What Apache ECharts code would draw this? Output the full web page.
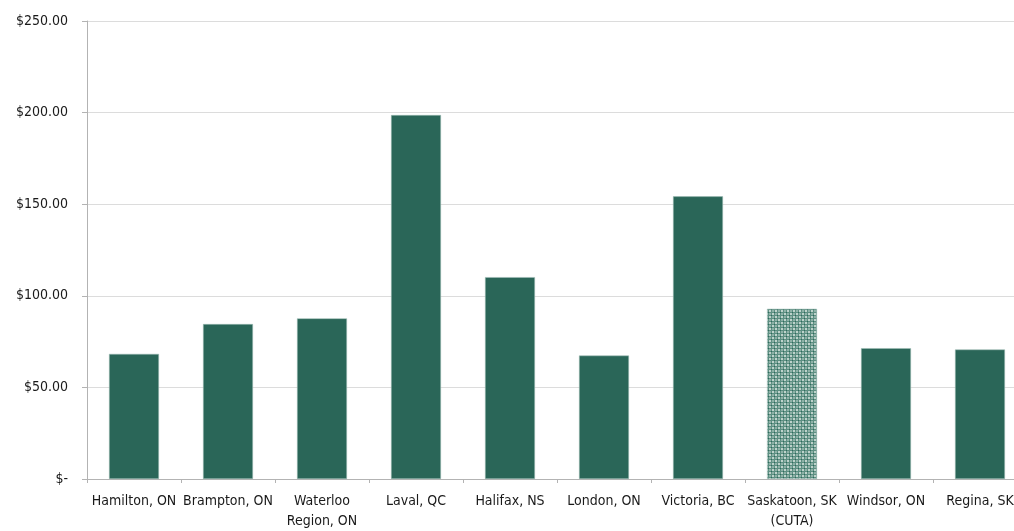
<!DOCTYPE html>
<html>
<head>
<meta charset="utf-8">
<script src="https://cdn.jsdelivr.net/npm/echarts@6/dist/echarts.min.js"></script>
<style>
html,body{margin:0;padding:0;background:#fff;}
#wrap{width:1014px;height:531px;overflow:hidden;position:relative;}
#chart{width:1027px;height:531px;position:absolute;left:0;top:0;}
</style>
</head>
<body>
<div id="wrap"><div id="chart"></div></div>
<script>
const categories = ["Hamilton, ON","Brampton, ON","Waterloo\nRegion, ON","Laval, QC","Halifax, NS","London, ON","Victoria, BC","Saskatoon, SK\n(CUTA)","Windsor, ON","Regina, SK"];
const values = [68.3, 84.6, 87.7, 198.7, 110.2, 67.4, 154.3, 92.9, 71.4, 70.7];
const patternedIndex = 7;
const yTicks = [0, 50, 100, 150, 200, 250];

const FONT = "'Liberation Sans Narrow', 'DejaVu Sans Condensed', 'Arial Narrow', sans-serif";
const BAR = '#2a6658';

function makePattern(){
  const c = document.createElement('canvas');
  c.width = 6; c.height = 6;
  const ctx = c.getContext('2d');
  ctx.fillStyle = '#bfd3cc';
  ctx.fillRect(0,0,6,6);
  ctx.fillStyle = '#5d8f82';
  ctx.fillRect(0,0,6,1);
  ctx.fillRect(0,3,6,1);
  ctx.fillRect(0,0,1,6);
  ctx.fillRect(3,0,1,6);
  ctx.fillStyle = '#2f6b5d';
  ctx.fillRect(0,0,1,1);
  ctx.fillRect(3,3,1,1);
  ctx.fillStyle = '#8fb2a8';
  ctx.fillRect(1,1,2,2);
  ctx.fillRect(4,4,2,2);
  return c;
}
const pattern = makePattern();

const data = values.map((v,i)=> i===patternedIndex
  ? {value:v, itemStyle:{color:{image:pattern, repeat:'repeat'}}}
  : v);

const chart = echarts.init(document.getElementById('chart'), null, {renderer:'canvas'});
chart.setOption({
  animation:false,
  backgroundColor:'#ffffff',
  grid:{left:87, top:21, bottom:50, right:0, containLabel:false},
  xAxis:{
    type:'category',
    data:categories,
    axisLine:{lineStyle:{color:'#b3b3b3', width:1}},
    axisTick:{show:true, length:4, lineStyle:{color:'#b3b3b3'}},
    axisLabel:{interval:0, color:'#1a1a1a', fontFamily:FONT, fontSize:14, margin:12, lineHeight:20}
  },
  yAxis:{
    type:'value',
    min:yTicks[0], max:yTicks[yTicks.length-1], interval:50,
    axisLine:{show:true, lineStyle:{color:'#b3b3b3'}},
    axisTick:{show:true, length:5, lineStyle:{color:'#b3b3b3'}},
    splitLine:{show:true, lineStyle:{color:'#dcdcdc'}},
    axisLabel:{color:'#1a1a1a', fontFamily:FONT, fontSize:14, margin:19,
      formatter: v => v===0 ? '$-' : '$' + v.toFixed(2)}
  },
  series:[{
    type:'bar',
    data:data,
    barWidth:50,
    itemStyle:{color:BAR, borderColor:'rgba(160,190,182,0.9)', borderWidth:0.6}
  }]
});
</script>
</body>
</html>
